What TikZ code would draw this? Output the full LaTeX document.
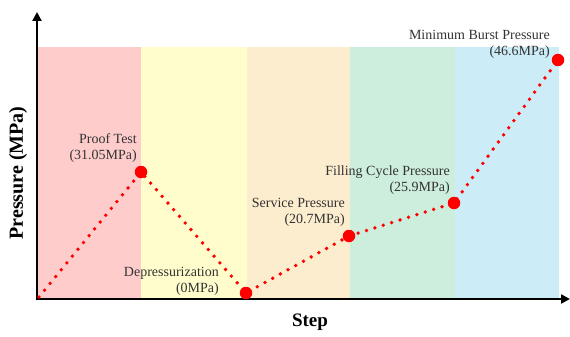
\documentclass[tikz,border=0pt]{standalone}
\usepackage{fontspec}
\setmainfont{Liberation Serif}
\usetikzlibrary{arrows.meta}
\definecolor{bandA}{HTML}{FFCCCC}
\definecolor{bandB}{HTML}{FFFDCC}
\definecolor{bandC}{HTML}{FDEDCF}
\definecolor{bandD}{HTML}{CDEDDD}
\definecolor{bandE}{HTML}{CCEDF8}
\definecolor{labelgray}{HTML}{333333}
\tikzset{
  band/.style={draw=none},
  axis/.style={line width=2.8pt,-{Triangle[length=9pt,width=9pt]}},
  path/.style={red,line width=3.8pt,line cap=round,dash pattern=on 0pt off 8.8pt},
  stage/.style={circle,fill=red,inner sep=0pt,minimum size=12.5pt},
  lbl/.style={font=\fontsize{14}{16}\selectfont,text=labelgray,align=right,anchor=south east,inner sep=0pt},
  axlabel/.style={font=\fontsize{20}{22}\selectfont\bfseries}
}
\begin{document}
\begin{tikzpicture}[x=1pt,y=-1pt]
\useasboundingbox (0,0) rectangle (570,337);
% coloured stage bands
\fill[bandA] (38,47) rectangle (141,298);
\fill[bandB] (141,47) rectangle (247,298);
\fill[bandC] (247,47) rectangle (350,298);
\fill[bandD] (350,47) rectangle (455,298);
\fill[bandE] (455,47) rectangle (559,298);
% axes
\coordinate (ytop) at (37,12);
\coordinate (xend) at (570,299);
\draw[axis] (37,300.4) -- (ytop);
\draw[axis] (35.6,299) -- (xend);
\node[axlabel,rotate=90] (ylab) at (18,173) {Pressure (MPa)};
\node[axlabel,font=\fontsize{19}{21}\selectfont\bfseries] (xlab) at (310,322) {Step};
% stage points
\coordinate (p0) at (39,297);
\node[stage] (p1) at (141,172) {};
\node[stage] (p2) at (246,293) {};
\node[stage] (p3) at (349,236) {};
\node[stage] (p4) at (454,203) {};
\node[stage] (p5) at (558,60) {};
\draw[path] (p0) -- (p1.center) -- (p2.center) -- (p3.center) -- (p4.center) -- (p5.center);
% labels
\node[lbl] (l1) at (137,163) {Proof Test\\(31.05MPa)};
\node[lbl] (l2) at (219,296) {Depressurization\\(0MPa)};
\node[lbl] (l3) at (345,227) {Service Pressure\\(20.7MPa)};
\node[lbl] (l4) at (450,195) {Filling Cycle Pressure\\(25.9MPa)};
\node[lbl] (l5) at (550,59) {Minimum Burst Pressure\\(46.6MPa)};
\end{tikzpicture}
\end{document}
